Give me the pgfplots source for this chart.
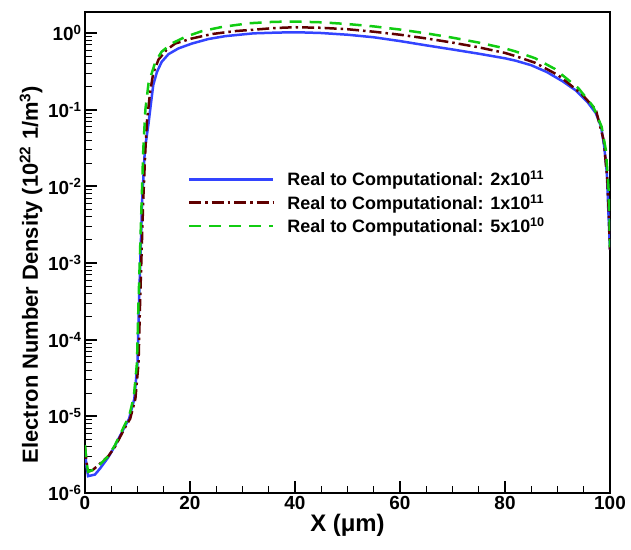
\documentclass[border=0pt]{standalone}
\usepackage{pgfplots}
\pgfplotsset{compat=1.18}
\usepackage{fontspec}
\setmainfont{Liberation Sans}
\definecolor{cblue}{RGB}{51,68,255}
\definecolor{cbrown}{RGB}{96,0,0}
\definecolor{cgreen}{RGB}{17,204,17}
\begin{document}
\begin{tikzpicture}
\begin{axis}[
  scale only axis, width=525bp, height=481bp,
  ymode=log, xmin=0, xmax=100, ymin=1e-6, ymax=1.88,
  axis line style={line width=2.5bp},
  tick align=inside, xtick pos=left, ytick pos=left,
  major tick length=12bp, minor tick length=7bp,
  major tick style={line width=2bp, black},
  minor tick style={line width=1bp, black},
  xtick={0,20,40,60,80,100}, minor x tick num=3,
  ytick={1e-6,1e-5,1e-4,1e-3,1e-2,1e-1,1},
  yticklabels={10\textsuperscript{-6},10\textsuperscript{-5},10\textsuperscript{-4},10\textsuperscript{-3},10\textsuperscript{-2},10\textsuperscript{-1},10\textsuperscript{0}},
  minor ytick={2e-6,3e-6,4e-6,5e-6,6e-6,7e-6,8e-6,9e-6,
    2e-5,3e-5,4e-5,5e-5,6e-5,7e-5,8e-5,9e-5,
    2e-4,3e-4,4e-4,5e-4,6e-4,7e-4,8e-4,9e-4,
    2e-3,3e-3,4e-3,5e-3,6e-3,7e-3,8e-3,9e-3,
    2e-2,3e-2,4e-2,5e-2,6e-2,7e-2,8e-2,9e-2,
    0.2,0.3,0.4,0.5,0.6,0.7,0.8,0.9},
  /pgf/number format/assume math mode=true,
  xticklabel={\pgfmathprintnumber[fixed]{\tick}},
  tick label style={font=\fontsize{19}{19}\selectfont\bfseries},
  xlabel={X (μm)},
  ylabel={Electron Number Density (10\textsuperscript{22} 1/m\textsuperscript{3})},
  xlabel style={font=\fontsize{24}{24}\selectfont\bfseries, yshift=3bp},
  ylabel style={font=\fontsize{22}{22}\selectfont\bfseries, yshift=-1bp, xshift=-22bp},
  legend cell align=left,
  legend image code/.code={\draw[#1] (0bp,0bp) -- (84bp,0bp);},
  legend style={at={(0.19,0.678)}, anchor=north west, draw=none, fill=none,
    font=\fontsize{18}{18}\selectfont\bfseries, row sep=3bp,
    /tikz/every odd column/.append style={column sep=11bp}},
]
\addplot[cblue, line width=2.5bp] coordinates {
(0,3.5e-6) (0.3,2.2e-6) (0.6,1.66e-6) (1.9,1.74e-6) (2.9,2.1e-6) (4.4,2.9e-6)
(5.7,4.1e-6) (7.6,7.4e-6) (8.4,9.3e-6) (9.4,1.7e-5) (10.0,5e-5) (10.3,3.2e-4)
(10.6,1.5e-3) (10.9,6.8e-3) (11.4,3.0e-2) (12.1,0.066) (12.6,0.127) (13.0,0.21)
(13.7,0.31) (14.6,0.42) (15.9,0.53) (17.8,0.63) (20.4,0.73) (23.5,0.835)
(26.7,0.91) (32.1,0.99) (37,1.015) (41,1.02) (45,1.0) (50,0.95) (55,0.88)
(60,0.785) (65,0.69) (70,0.61) (75,0.537) (80,0.468) (82,0.436) (85,0.38)
(88,0.309) (91,0.234) (93.5,0.178) (95.7,0.126) (97.3,0.09) (98.3,0.06)
(98.9,0.033) (99.4,0.015) (99.7,0.0045) (100,0.0015)
};
\addlegendentry{Real to Computational: 2x10\textsuperscript{11}}
\addplot[cbrown, line width=2.5bp, dash pattern=on 12bp off 4bp on 2.5bp off 4bp] coordinates {
(0,4e-6) (0.3,2.5e-6) (0.6,1.9e-6) (1.5,2e-6) (2.5,2.3e-6) (4.4,3e-6)
(5.7,4e-6) (7.6,7.1e-6) (8.6,9.3e-6) (9.6,1.7e-5) (10.2,5e-5) (10.5,3.2e-4)
(10.8,1.5e-3) (11.1,6.8e-3) (11.5,3e-2) (11.8,0.07) (12.4,0.17) (13.0,0.30)
(14.0,0.45) (15.5,0.60) (17.2,0.73) (20.4,0.85) (24.2,0.97) (28.6,1.06)
(31.8,1.10) (36,1.16) (40,1.19) (45,1.17) (50,1.12) (55,1.04) (60,0.95)
(65,0.85) (70,0.75) (75,0.65) (80,0.55) (82,0.50) (85.7,0.41) (90.2,0.28)
(94.6,0.16) (97.3,0.1) (98.8,0.04) (99.5,0.012) (99.8,0.004) (100,0.0015)
};
\addlegendentry{Real to Computational: 1x10\textsuperscript{11}}
\addplot[cgreen, line width=2.5bp, dash pattern=on 12bp off 8bp] coordinates {
(0,4.2e-6) (0.3,2.5e-6) (0.6,1.9e-6) (1.5,2.0e-6) (2.5,2.24e-6) (4.4,3.0e-6)
(5.7,4.2e-6) (7.6,7.8e-6) (8.4,1.0e-5) (9.3,1.8e-5) (9.9,5e-5) (10.2,3.2e-4)
(10.5,1.5e-3) (10.8,6.8e-3) (11.1,3.0e-2) (11.5,0.10) (12.1,0.22) (13.4,0.42)
(14.6,0.57) (16.5,0.73) (19.1,0.89) (22.3,1.06) (26.1,1.20) (31.2,1.34)
(36,1.40) (40,1.41) (45,1.38) (50,1.31) (55,1.22) (60,1.11) (65,0.99)
(70,0.87) (75,0.75) (80,0.63) (82,0.575) (85.7,0.47) (89.5,0.34) (94,0.19)
(96.8,0.11) (98.4,0.06) (99.2,0.03) (99.7,0.01) (99.9,0.004) (100,0.0016)
};
\addlegendentry{Real to Computational: 5x10\textsuperscript{10}}
\end{axis}
\pgfresetboundingbox
\path ([xshift=-85bp,yshift=-57bp]current axis.south west) rectangle ([xshift=21bp,yshift=12bp]current axis.north east);
\end{tikzpicture}
\end{document}
